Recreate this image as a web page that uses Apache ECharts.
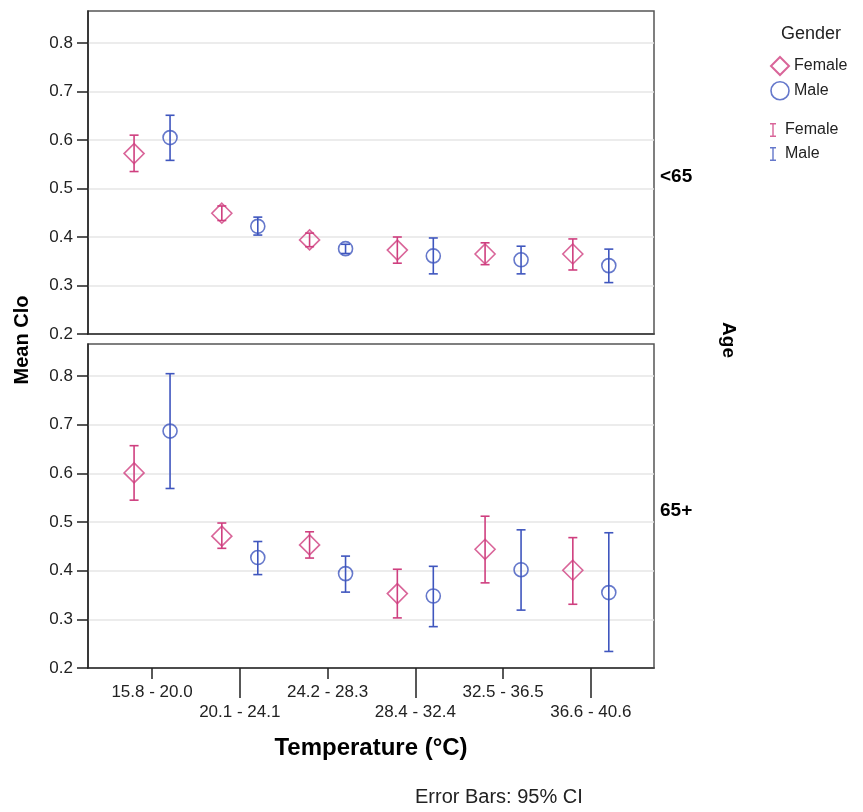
<!DOCTYPE html>
<html>
<head>
<meta charset="utf-8">
<script src="https://cdn.jsdelivr.net/npm/echarts@6/dist/echarts.min.js"></script>
<style>html,body{margin:0;padding:0;background:#fff}#c{width:863px;height:812px}</style>
</head>
<body>
<div id="c"></div>
<script>
// ---- data ----
const categories = ['15.8 - 20.0','20.1 - 24.1','24.2 - 28.3','28.4 - 32.4','32.5 - 36.5','36.6 - 40.6'];
const yTicks = [0.2,0.3,0.4,0.5,0.6,0.7,0.8];
const panels = ['<65','65+'];
// Age < 65
const femaleU65Mean = [0.572,0.449,0.394,0.373,0.365,0.365];
const femaleU65Lo   = [0.535,0.434,0.380,0.346,0.343,0.332];
const femaleU65Hi   = [0.610,0.464,0.408,0.400,0.388,0.396];
const maleU65Mean   = [0.605,0.422,0.376,0.361,0.353,0.341];
const maleU65Lo     = [0.558,0.404,0.366,0.324,0.324,0.306];
const maleU65Hi     = [0.651,0.441,0.385,0.398,0.381,0.375];
// Age 65+
const female65Mean  = [0.601,0.471,0.453,0.353,0.444,0.401];
const female65Lo    = [0.545,0.446,0.426,0.303,0.375,0.331];
const female65Hi    = [0.657,0.498,0.480,0.403,0.512,0.468];
const male65Mean    = [0.687,0.427,0.394,0.348,0.402,0.355];
const male65Lo      = [0.569,0.392,0.356,0.285,0.319,0.234];
const male65Hi      = [0.805,0.460,0.430,0.409,0.484,0.478];

// ---- style ----
const PINK = '#CF3F7F', BLUE = '#3F56BE';
const FONT = '"Liberation Sans", Arial, sans-serif';
const OFF = 0.205; // dodge within a category
const XMIN = -0.73, XMAX = 5.72, YMIN = 0.2, YMAX = 0.866;
const catIdx = categories.map((_, i) => i);

function pts(mean, dx){ return mean.map((v,i)=>[i+dx, v]); }
function bars(lo, hi, dx){ return lo.map((v,i)=>[i+dx, v, hi[i]]); }

function renderErr(params, api){
  const x = api.value(0), lo = api.value(1), hi = api.value(2);
  const a = api.coord([x, hi]), b = api.coord([x, lo]);
  const w = 4.5;
  const st = {stroke: api.visual('color'), lineWidth: 1.6, fill: null};
  return {type:'group', children:[
    {type:'line', shape:{x1:a[0],y1:a[1],x2:b[0],y2:b[1]}, style:st},
    {type:'line', shape:{x1:a[0]-w,y1:a[1],x2:a[0]+w,y2:a[1]}, style:st},
    {type:'line', shape:{x1:b[0]-w,y1:b[1],x2:b[0]+w,y2:b[1]}, style:st}
  ]};
}

function yAxis(gi){
  return {
    type:'value', gridIndex:gi, min:YMIN, max:YMAX, position:'left',
    axisLine:{show:true, onZero:false, lineStyle:{color:'#222', width:1.5}},
    axisTick:{show:true, length:11, customValues:yTicks, lineStyle:{color:'#222', width:1.5}},
    axisLabel:{customValues:yTicks, margin:15, color:'#222', fontFamily:FONT, fontSize:17,
      formatter:v=>v.toFixed(1)},
    splitLine:{show:true, lineStyle:{color:'#e6e6e6', width:1.5}}
  };
}

const chart = echarts.init(document.getElementById('c'), null, {renderer:'canvas'});
const scatterStyle = (c)=>({color:'rgba(255,255,255,0)', borderColor:c, borderWidth:1.6});

const option = {
  backgroundColor:'#fff',
  animation:false,
  grid:[
    {left:88, top:11, width:566, height:323, show:true, borderColor:'#555', borderWidth:1.5, containLabel:false},
    {left:88, top:344, width:566, height:324, show:true, borderColor:'#555', borderWidth:1.5, containLabel:false}
  ],
  xAxis:[
    {type:'value', gridIndex:0, min:XMIN, max:XMAX, position:'bottom',
     axisLine:{show:true, onZero:false, lineStyle:{color:'#222', width:1.5}}, axisTick:{show:false}, axisLabel:{show:false}, splitLine:{show:false}},
    {type:'value', gridIndex:1, min:XMIN, max:XMAX, position:'bottom',
     axisLine:{show:true, onZero:false, lineStyle:{color:'#222', width:1.5}},
     axisTick:{show:true, length:11, customValues:catIdx.filter(i=>i%2===0), lineStyle:{color:'#222', width:1.5}},
     axisLabel:{show:true, customValues:catIdx, margin:14, color:'#222', fontFamily:FONT, fontSize:17, lineHeight:20,
       formatter:v=>{const i=Math.round(v); return (i%2===1?'\n':'')+categories[i];}},
     splitLine:{show:false}},
    {type:'value', gridIndex:1, min:XMIN, max:XMAX, position:'bottom', offset:0,
     axisLine:{show:false, onZero:false},
     axisTick:{show:true, length:30, customValues:catIdx.filter(i=>i%2===1), lineStyle:{color:'#222', width:1.5}},
     axisLabel:{show:false}, splitLine:{show:false}}
  ],
  yAxis:[yAxis(0), yAxis(1)],
  legend:[
    {orient:'vertical', left:765, top:51, itemWidth:18, itemHeight:18, itemGap:5,
     textStyle:{fontFamily:FONT, fontSize:16, color:'#222'}, selectedMode:false,
     data:[{name:'Female', icon:'diamond'},{name:'Male', icon:'circle', itemStyle:{borderWidth:1.6}}]},
    {orient:'vertical', left:765, top:117, itemWidth:14, itemHeight:14, itemGap:8,
     textStyle:{fontFamily:FONT, fontSize:16, color:'#222'}, selectedMode:false,
     data:[
       {name:'Female', icon:'path://M0,0H6V1.4H3.7V12.6H6V14H0V12.6H2.3V1.4H0Z', itemStyle:{color:PINK, borderWidth:0}},
       {name:'Male', icon:'path://M0,0H6V1.4H3.7V12.6H6V14H0V12.6H2.3V1.4H0Z', itemStyle:{color:BLUE, borderWidth:0}}
     ]}
  ],
  graphic:[
    {type:'text', x:22, y:340, rotation:Math.PI/2,
     style:{text:'Mean Clo', font:'bold 20px '+FONT, fill:'#000', align:'center', verticalAlign:'middle'}},
    {type:'text', x:728, y:340, rotation:-Math.PI/2,
     style:{text:'Age', font:'bold 19px '+FONT, fill:'#000', align:'center', verticalAlign:'middle'}},
    {type:'text', x:660, y:177,
     style:{text:panels[0], font:'bold 19px '+FONT, fill:'#000', align:'left', verticalAlign:'middle'}},
    {type:'text', x:660, y:511,
     style:{text:panels[1], font:'bold 19px '+FONT, fill:'#000', align:'left', verticalAlign:'middle'}},
    {type:'text', x:371, y:748,
     style:{text:'Temperature (°C)', font:'bold 24px '+FONT, fill:'#000', align:'center', verticalAlign:'middle'}},
    {type:'text', x:415, y:797,
     style:{text:'Error Bars: 95% CI', font:'20px '+FONT, fill:'#222', align:'left', verticalAlign:'middle'}},
    {type:'text', x:811, y:34,
     style:{text:'Gender', font:'18px '+FONT, fill:'#222', align:'center', verticalAlign:'middle'}}
  ],
  series:[
    {name:'Female', type:'scatter', xAxisIndex:0, yAxisIndex:0, symbol:'diamond', symbolSize:20, z:3,
     itemStyle:scatterStyle(PINK), data:pts(femaleU65Mean,-OFF)},
    {name:'Male', type:'scatter', xAxisIndex:0, yAxisIndex:0, symbol:'circle', symbolSize:14, z:3,
     itemStyle:scatterStyle(BLUE), data:pts(maleU65Mean,OFF)},
    {name:'Female', type:'scatter', xAxisIndex:1, yAxisIndex:1, symbol:'diamond', symbolSize:20, z:3,
     itemStyle:scatterStyle(PINK), data:pts(female65Mean,-OFF)},
    {name:'Male', type:'scatter', xAxisIndex:1, yAxisIndex:1, symbol:'circle', symbolSize:14, z:3,
     itemStyle:scatterStyle(BLUE), data:pts(male65Mean,OFF)},
    {name:'Female', type:'custom', xAxisIndex:0, yAxisIndex:0, itemStyle:{color:PINK}, renderItem:renderErr,
     encode:{x:0, y:[1,2]}, data:bars(femaleU65Lo,femaleU65Hi,-OFF)},
    {name:'Male', type:'custom', xAxisIndex:0, yAxisIndex:0, itemStyle:{color:BLUE}, renderItem:renderErr,
     encode:{x:0, y:[1,2]}, data:bars(maleU65Lo,maleU65Hi,OFF)},
    {name:'Female', type:'custom', xAxisIndex:1, yAxisIndex:1, itemStyle:{color:PINK}, renderItem:renderErr,
     encode:{x:0, y:[1,2]}, data:bars(female65Lo,female65Hi,-OFF)},
    {name:'Male', type:'custom', xAxisIndex:1, yAxisIndex:1, itemStyle:{color:BLUE}, renderItem:renderErr,
     encode:{x:0, y:[1,2]}, data:bars(male65Lo,male65Hi,OFF)}
  ]
};
chart.setOption(option);
</script>
</body>
</html>
